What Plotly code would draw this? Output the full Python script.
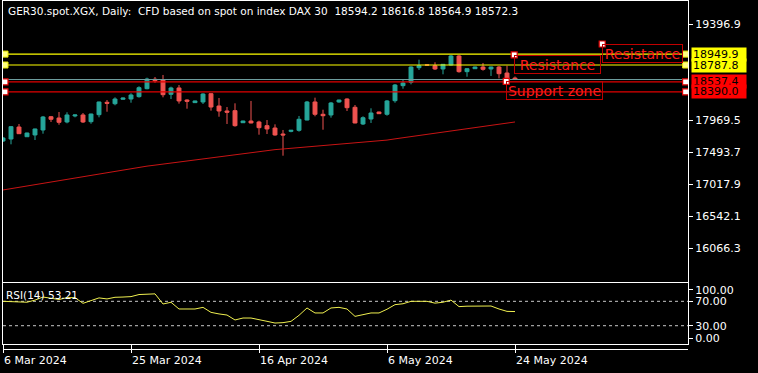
import plotly.graph_objects as go

# ---------------- data ----------------
bars = list(range(65))
opens = [17659, 17689, 17867, 17723, 17749, 17823, 18020, 18001, 17942, 18031,
         18046, 17946, 18050, 18234, 18213, 18279, 18283, 18318, 18436, 18576,
         18565, 18353, 18447, 18268, 18229, 18239, 18362, 18179, 18105, 18110,
         17931, 17956, 17942, 17887, 17852, 17763, 17803, 17818, 17971, 18239,
         18056, 18046, 18239, 18283, 18160, 17912, 17986, 18090, 18056, 18258,
         18481, 18531, 18748, 18790, 18778, 18729, 18788, 18922, 18689, 18733,
         18758, 18729, 18758, 18669, 18594.2]
highs = [17719, 17882, 17912, 17783, 17842, 18031, 18031, 18090, 18086, 18050,
         18075, 18065, 18243, 18268, 18308, 18303, 18368, 18472, 18600, 18610,
         18640, 18466, 18491, 18279, 18258, 18368, 18368, 18298, 18164, 18219,
         17961, 18254, 17961, 17971, 17907, 17823, 17823, 18031, 18254, 18303,
         18124, 18239, 18273, 18293, 18194, 18026, 18145, 18095, 18268, 18506,
         18570, 18769, 18867, 18800, 18828, 18803, 18937, 18937, 18743, 18763,
         18818, 18763, 18773, 18778, 18616.8]
lows = [17645, 17610, 17763, 17719, 17674, 17768, 17942, 17901, 17922, 18011,
        17927, 17916, 18011, 18094, 18190, 18273, 18228, 18303, 18427, 18525,
        18308, 18283, 18214, 18139, 18224, 18209, 18110, 18020, 17912, 17872,
        17927, 17922, 17753, 17763, 17738, 17441, 17789, 17798, 17967, 18026,
        17827, 18006, 18228, 18105, 17922, 17897, 17927, 18060, 18035, 18228,
        18436, 18501, 18714, 18776, 18714, 18650, 18778, 18674, 18614, 18729,
        18704, 18625, 18590, 18540, 18564.9]
closes = [17704, 17872, 17768, 17778, 17838, 18016, 17982, 17937, 18046, 18046,
          17942, 18060, 18239, 18219, 18283, 18298, 18343, 18451, 18580, 18555,
          18347, 18447, 18254, 18249, 18254, 18357, 18164, 18105, 18086, 17887,
          17956, 17927, 17857, 17838, 17749, 17749, 17818, 17982, 18239, 18056,
          18035, 18224, 18268, 18154, 17927, 18005, 18075, 18065, 18254, 18491,
          18521, 18758, 18778, 18786, 18729, 18798, 18922, 18689, 18733, 18758,
          18724, 18758, 18659, 18576, 18572.3]
ma = [16932, 16952, 16972, 16992, 17012, 17032, 17052, 17073, 17093, 17113,
      17133, 17153, 17173, 17193, 17213, 17234, 17254, 17270, 17286, 17301,
      17317, 17333, 17348, 17364, 17380, 17396, 17411, 17427, 17443, 17458,
      17474, 17490, 17505, 17521, 17531, 17541, 17551, 17560, 17570, 17580,
      17590, 17600, 17609, 17619, 17629, 17639, 17649, 17658, 17673, 17691,
      17708, 17726, 17744, 17762, 17779, 17797, 17815, 17831, 17847, 17863,
      17879, 17895, 17910, 17926, 17942]
rsi = [70, 69.5, 70, 68.5, 72, 77, 75, 73, 76, 76,
       66.7, 71.5, 75.6, 73.9, 76.6, 77.0, 77.7, 81.1, 81.8, 82.2,
       65.6, 68.4, 57.4, 57.0, 57.4, 60.1, 51.9, 49.3, 47.5, 39.4,
       42.6, 42.6, 39.4, 37.2, 34.4, 35.0, 37.1, 47.0, 59.1, 50.9,
       50.9, 59.1, 60.1, 57.4, 45.3, 48.5, 50.9, 50.9, 57.0, 64.5,
       66.0, 70.0, 70.3, 70.0, 67.0, 68.5, 72.0, 61.3, 62.0, 62.5,
       62.0, 62.3, 57.4, 53.5, 53.21]

date_tick_bars = [0, 16, 32, 48, 64]
date_tick_labels = ["6 Mar 2024", "25 Mar 2024", "16 Apr 2024", "6 May 2024", "24 May 2024"]
price_tick_vals = [19396.9, 17969.5, 17493.7, 17017.9, 16542.1, 16066.3]
price_tick_text = ["19396.9", "17969.5", "17493.7", "17017.9", "16542.1", "16066.3"]
resistance_levels = [18949.9, 18787.8]
support_levels = [18537.4, 18390.0]
last_price = 18572.3
rsi_levels = [70, 30]
rsi_tick_vals = [88.8, 70, 30, 9.8]
rsi_tick_text = ["100.00", "70.00", "30.00", "0.00"]
text_objects = [("Resistance", 63.9, 18937, 83), ("Resistance", 74.9, 19100, 77),
                ("Support zone", 62.9, 18546, 93)]
title_text = ("GER30.spot.XGX, Daily:\u00a0\u00a0CFD based on spot on index DAX 30\u00a0\u00a0"
              "18594.2 18616.8 18564.9 18572.3")
rsi_label = "RSI(14) 53.21"

# ---------------- style ----------------
X_MAX = 85.625
PRICE_RANGE = [15565.6, 19738.5]
FONT = "DejaVu Sans"
BULL = "#26a69a"
BEAR = "#ef5350"
YELLOW = "#ffff00"
RED = "#e00000"
BID = "#6f9fa0"
WHITE = "#ffffff"

fig = go.Figure()

fig.add_trace(go.Candlestick(
    x=bars, open=opens, high=highs, low=lows, close=closes,
    increasing=dict(line=dict(color=BULL, width=1), fillcolor=BULL),
    decreasing=dict(line=dict(color=BEAR, width=1), fillcolor=BEAR),
    whiskerwidth=0, hoverinfo="skip", xaxis="x", yaxis="y"))

fig.add_trace(go.Scatter(x=bars, y=ma, mode="lines",
                         line=dict(color="#c81414", width=1), hoverinfo="skip"))

for lvl in resistance_levels:
    fig.add_trace(go.Scatter(x=[0, X_MAX], y=[lvl, lvl], mode="lines",
                             line=dict(color=YELLOW, width=1.2), hoverinfo="skip"))
for lvl in support_levels:
    fig.add_trace(go.Scatter(x=[0, X_MAX], y=[lvl, lvl], mode="lines",
                             line=dict(color=RED, width=1.2), hoverinfo="skip"))
fig.add_trace(go.Scatter(x=[0, X_MAX], y=[last_price, last_price], mode="lines",
                         line=dict(color=BID, width=1), hoverinfo="skip"))

# selection handles
fig.add_trace(go.Scatter(
    x=[0.25] * len(resistance_levels) + [X_MAX - 0.3] * len(resistance_levels),
    y=resistance_levels * 2, mode="markers",
    marker=dict(symbol="square", size=6, color="#ffff80", line=dict(color="#e8e800", width=1)),
    hoverinfo="skip"))
fig.add_trace(go.Scatter(
    x=[0.25] * len(support_levels) + [X_MAX - 0.3] * len(support_levels),
    y=support_levels * 2, mode="markers",
    marker=dict(symbol="square", size=6, color=WHITE, line=dict(color=RED, width=1.2)),
    hoverinfo="skip"))

# RSI
for lvl in rsi_levels:
    fig.add_trace(go.Scatter(x=[0, X_MAX], y=[lvl, lvl], mode="lines",
                             line=dict(color="#c8c8c8", width=1, dash="3px,3px"),
                             xaxis="x2", yaxis="y2", hoverinfo="skip"))
fig.add_trace(go.Scatter(x=bars, y=rsi, mode="lines", line=dict(color="#f0f050", width=1),
                         xaxis="x2", yaxis="y2", hoverinfo="skip"))

annotations = []
annotations.append(dict(text=title_text, xref="paper", yref="paper", x=0, y=1,
                        xanchor="left", yanchor="top", xshift=3, yshift=-2, showarrow=False,
                        font=dict(family=FONT, size=10.5, color=WHITE)))
annotations.append(dict(text=rsi_label, xref="paper", yref="y2 domain", x=0, y=1,
                        xanchor="left", yanchor="top", xshift=1, yshift=-4, showarrow=False,
                        font=dict(family=FONT, size=10.5, color=WHITE)))

# price labels on the right
for lvl in resistance_levels:
    annotations.append(dict(text=f"{lvl:.1f}", xref="paper", yref="y", x=1, y=lvl,
                            xanchor="left", yanchor="middle", xshift=3, showarrow=False,
                            bgcolor=YELLOW, width=52, height=11, align="left", borderpad=1,
                            font=dict(family=FONT, size=11, color="#000000")))
for lvl in support_levels:
    annotations.append(dict(text=f"{lvl:.1f}", xref="paper", yref="y", x=1, y=lvl,
                            xanchor="left", yanchor="middle", xshift=3, showarrow=False,
                            bgcolor="#ff0000", width=52, height=11, align="left", borderpad=1,
                            font=dict(family=FONT, size=11, color="#000000")))

for txt, bx, py, w in text_objects:
    annotations.append(dict(text=txt, xref="x", yref="y", x=bx, y=py,
                            xanchor="left", yanchor="top", showarrow=False,
                            bordercolor="#c00000", borderwidth=1, borderpad=1,
                            width=w, height=15, align="center",
                            font=dict(family=FONT, size=14, color="#ff1a1a")))

fig.add_trace(go.Scatter(x=[t[1] for t in text_objects], y=[t[2] for t in text_objects],
                         mode="markers", hoverinfo="skip",
                         marker=dict(symbol="square", size=6, color=WHITE,
                                     line=dict(color=RED, width=1.2))))

axis_common = dict(showgrid=False, zeroline=False, showline=True, mirror=True,
                   linecolor=WHITE, linewidth=1)

fig.update_layout(
    width=758, height=373,
    paper_bgcolor="#000000", plot_bgcolor="#000000",
    margin=dict(l=3, r=70, t=1, b=29, autoexpand=False),
    showlegend=False,
    annotations=annotations,
    xaxis=dict(domain=[0, 1], range=[0, X_MAX], anchor="y", showticklabels=False,
               ticks="", rangeslider=dict(visible=False), **axis_common),
    yaxis=dict(domain=[0.1808, 1], range=PRICE_RANGE, side="right", anchor="x",
               tickvals=price_tick_vals, ticktext=price_tick_text, ticks="outside",
               ticklen=4, tickcolor=WHITE, tickfont=dict(family=FONT, size=11, color=WHITE),
               **axis_common),
    xaxis2=dict(domain=[0, 1], range=[0, X_MAX], anchor="y2", matches="x",
                tickvals=date_tick_bars, ticktext=date_tick_labels, ticks="outside",
                ticklen=8, tickcolor=WHITE, ticklabelposition="outside right",
                ticklabelstandoff=6,
                tickfont=dict(family=FONT, size=11, color=WHITE), **axis_common),
    yaxis2=dict(domain=[0, 0.1778], range=[0, 100], side="right", anchor="x2",
                tickvals=rsi_tick_vals, ticktext=rsi_tick_text, ticks="outside",
                ticklen=4, tickcolor=WHITE, tickfont=dict(family=FONT, size=11, color=WHITE),
                **axis_common),
    shapes=[dict(type="line", xref="paper", yref="paper", x0=0, x1=1,
                 y0=-5.5 / 343, y1=-5.5 / 343, line=dict(color=WHITE, width=1))],
)

fig.write_html("out.html", config={"displayModeBar": False},
               post_script="document.body.style.margin='0px';")
